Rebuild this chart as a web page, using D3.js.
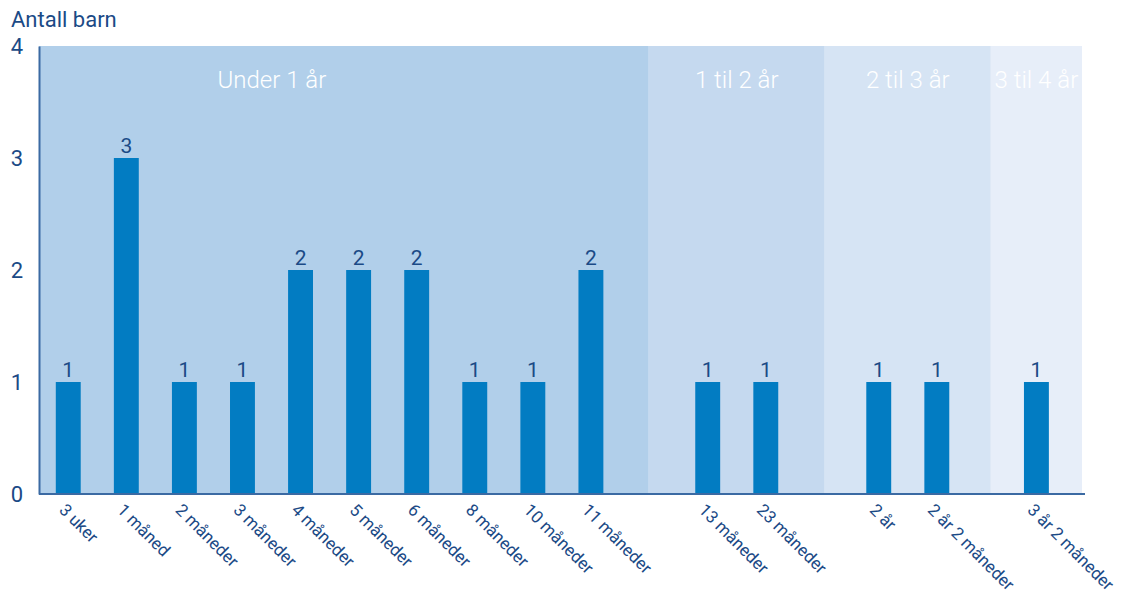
<!DOCTYPE html>
<html>
<head>
<meta charset="utf-8">
<script src="https://cdn.jsdelivr.net/npm/d3@7"></script>
<style>
  body { margin: 0; background: #fff; }
  svg { font-family: Roboto, "DejaVu Sans", sans-serif; }
</style>
</head>
<body>
<div id="chart"></div>
<script>
const categories = ["3 uker", "1 måned", "2 måneder", "3 måneder", "4 måneder", "5 måneder",
    "6 måneder", "8 måneder", "10 måneder", "11 måneder", "13 måneder", "23 måneder",
    "2 år", "2 år 2 måneder", "3 år 2 måneder"];
const values = [1, 3, 1, 1, 2, 2, 2, 1, 1, 2, 1, 1, 1, 1, 1];
const groups = ["Under 1 år", "1 til 2 år", "2 til 3 år", "3 til 4 år"];
const groupOf = [0, 0, 0, 0, 0, 0, 0, 0, 0, 0, 1, 1, 2, 2, 3];
const yTicks = [0, 1, 2, 3, 4];

// layout: width of each group band in bar steps, how leftover space is split,
// and where the heading sits inside the band
const groupSlots = [10.5, 3.03, 2.86, 1.57];
const groupAlign = [0.27, 0.5, 0.5, 0.5];
const headingAt = [0.382, 0.5, 0.5, 0.5];
const groupFill = ["#b1cfea", "#c5d9ef", "#d6e4f4", "#e7eef9"];

const width = 1129, height = 596;
const margin = { top: 46, right: 47, bottom: 102, left: 39 };
const textColor = "#1b4a86";

const svg = d3.select("#chart").append("svg")
    .attr("width", width)
    .attr("height", height);

const y = d3.scaleLinear()
    .domain([0, 4])
    .range([height - margin.bottom, margin.top]);

const slotX = d3.scaleLinear()
    .domain([0, d3.sum(groupSlots)])
    .range([margin.left, width - margin.right]);

const starts = d3.cumsum([0, ...groupSlots]);
const pi = 0.571;

const data = categories.map((c, i) => ({ cat: c, value: values[i], group: groupOf[i] }));

groups.forEach((g, gi) => {
    const x0 = slotX(starts[gi]), x1 = slotX(starts[gi + 1]);
    const members = data.filter(d => d.group === gi);
    const n = members.length;
    const x = d3.scaleBand()
        .domain(members.map(d => d.cat))
        .range([x0, x1])
        .paddingInner(pi)
        .paddingOuter((groupSlots[gi] - n + pi) / 2)
        .align(groupAlign[gi]);

    svg.append("rect")
        .attr("x", x0)
        .attr("y", y(4))
        .attr("width", x1 - x0)
        .attr("height", y(0) - y(4))
        .attr("fill", groupFill[gi]);

    svg.append("text")
        .attr("x", x0 + (x1 - x0) * headingAt[gi])
        .attr("y", 88)
        .attr("text-anchor", "middle")
        .attr("fill", "#ffffff")
        .attr("font-size", 24)
        .attr("font-weight", 300)
        .text(g);

    svg.selectAll(null)
        .data(members)
        .enter().append("rect")
        .attr("x", d => x(d.cat))
        .attr("y", d => y(d.value))
        .attr("width", x.bandwidth())
        .attr("height", d => y(0) - y(d.value))
        .attr("fill", "#027cc2");

    svg.selectAll(null)
        .data(members)
        .enter().append("text")
        .attr("x", d => x(d.cat) + x.bandwidth() / 2)
        .attr("y", d => y(d.value) - 5)
        .attr("text-anchor", "middle")
        .attr("fill", textColor)
        .attr("font-size", 21)
        .text(d => d.value);

    const ax = svg.append("g")
        .attr("transform", `translate(0,${y(0)})`)
        .call(d3.axisBottom(x).tickSize(0));
    ax.select(".domain").remove();
    ax.selectAll("text")
        .attr("x", 0)
        .attr("y", 0)
        .attr("dy", 0)
        .attr("text-anchor", "start")
        .attr("transform", "translate(-10,17) rotate(45)")
        .attr("fill", textColor)
        .attr("font-size", 17)
        .attr("font-family", "Roboto, 'DejaVu Sans', sans-serif");
});

// baseline
svg.append("line")
    .attr("x1", margin.left)
    .attr("x2", width - margin.right + 3)
    .attr("y1", y(0))
    .attr("y2", y(0))
    .attr("stroke", "#3b6aa3")
    .attr("stroke-width", 2);

const yAxis = svg.append("g")
    .attr("transform", `translate(${margin.left},0)`)
    .call(d3.axisLeft(y).tickValues(yTicks).tickFormat(d3.format("d"))
        .tickSize(0).tickSizeOuter(0).tickPadding(16));
yAxis.select(".domain")
    .attr("stroke", "#3b6aa3")
    .attr("stroke-width", 2);
yAxis.selectAll("text")
    .attr("fill", textColor)
    .attr("font-size", 22)
    .attr("font-family", "Roboto, 'DejaVu Sans', sans-serif");

svg.append("text")
    .attr("x", 11)
    .attr("y", 27)
    .attr("fill", textColor)
    .attr("font-size", 22)
    .text("Antall barn");
</script>
</body>
</html>
